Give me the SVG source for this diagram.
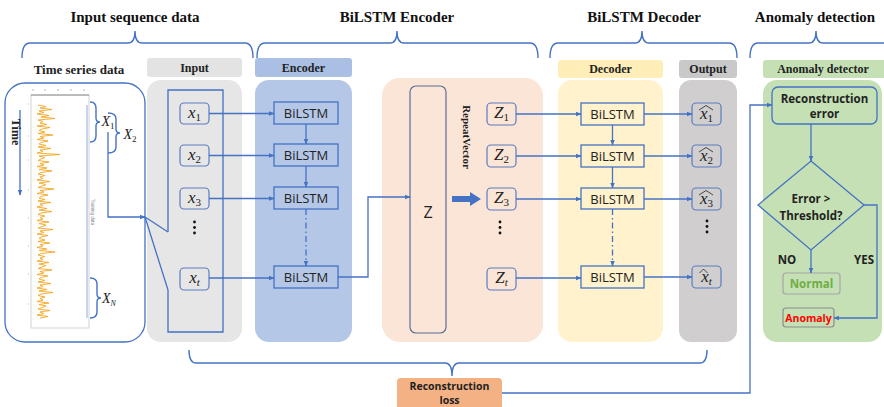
<svg xmlns="http://www.w3.org/2000/svg" width="884" height="407" viewBox="0 0 884 407">
<style>
.ttl{font-family:"Liberation Serif",serif;font-weight:bold;font-size:15px;fill:#111;text-anchor:middle}
.lbl{font-family:"Liberation Serif",serif;font-weight:bold;font-size:12px;fill:#222;text-anchor:middle}
.bl{font-family:"Open Sans","Noto Sans",sans-serif;font-size:13px;fill:#222;text-anchor:middle}
.m{font-family:"Liberation Serif",serif;font-style:italic;font-size:17px;fill:#222;text-anchor:middle}
.sub{font-size:11px;font-style:normal}
.sb{font-family:"Open Sans","Noto Sans",sans-serif;font-weight:bold;font-size:11.5px;fill:#222;text-anchor:middle}
.ln{fill:none;stroke:#4472c4;stroke-width:1.3}
.br{fill:none;stroke:#4472c4;stroke-width:1.4}
.nb{fill:none;stroke:#5b7cc0;stroke-width:1.2}
.bb{stroke:#4472c4;stroke-width:1.3}
.dot{fill:#111}
</style>
<defs>
<marker id="ah" viewBox="0 0 10 10" refX="9" refY="5" markerWidth="6" markerHeight="6" markerUnits="userSpaceOnUse" orient="auto"><path d="M0,1 L10,5 L0,9 z" fill="#4472c4"/></marker>
</defs>

<!-- titles and braces -->
<g id="titles">
<text class="ttl" x="135" y="22">Input sequence data</text>
<text class="ttl" x="397" y="22">BiLSTM Encoder</text>
<text class="ttl" x="644" y="22">BiLSTM Decoder</text>
<text class="ttl" x="815" y="22">Anomaly detection</text>
</g>
<g id="braces">
<path class="br" d="M22,58 Q22,43 30,43 H128 Q135,43 135,31 Q135,43 142,43 H245 Q253,43 253,58"/>
<path class="br" d="M257,58 Q257,43 265,43 H390 Q397,43 397,31 Q397,43 404,43 H530 Q538,43 538,58"/>
<path class="br" d="M550,58 Q550,43 558,43 H635 Q642,43 642,31 Q642,43 649,43 H729 Q737,43 737,58"/>
<path class="br" d="M750,58 Q750,43 758,43 H809 Q816,43 816,31 Q816,43 823,43 H890"/>
<path class="br" d="M189,350 Q189,363 196,363 H445 Q452,363 452,376 Q452,363 459,363 H700 Q707,363 707,350"/>
</g>

<!-- time series panel -->
<g id="timeseries">
<text class="lbl" x="79" y="74" style="font-size:13px">Time series data</text>
<rect x="5" y="83" width="140" height="259" rx="20" fill="#fff" stroke="#4472c4" stroke-width="1.3"/>
<rect x="31" y="95" width="58" height="233" fill="#fff" stroke="#c8c8c8" stroke-width="0.8"/>
<line x1="31" y1="95" x2="89" y2="95" stroke="#777" stroke-width="0.8"/>
<g stroke="#999" stroke-width="0.7">
<line x1="33" y1="89" x2="33" y2="91"/><line x1="45" y1="89" x2="45" y2="91"/><line x1="58" y1="89" x2="58" y2="91"/><line x1="71" y1="89" x2="71" y2="91"/><line x1="84" y1="89" x2="84" y2="91"/>
<line x1="28" y1="104" x2="29" y2="104"/><line x1="28" y1="136" x2="29" y2="136"/><line x1="28" y1="160" x2="29" y2="160"/><line x1="28" y1="190" x2="29" y2="190"/><line x1="28" y1="218" x2="29" y2="218"/><line x1="28" y1="246" x2="29" y2="246"/><line x1="28" y1="274" x2="29" y2="274"/><line x1="28" y1="304" x2="29" y2="304"/>
</g>
<polyline fill="none" stroke="#f5a623" stroke-width="0.9" points="38,105 46,106.5 40,108 52,109.5 39,111 44,112.5 37,114 49,115.5 41,117 55,118.5 38,120 43,121.5 40,123 47,124.5 37,126 50,127.5 42,129 39,130.5 45,132 38,133.5 53,135 40,136.5 44,138 37,139.5 48,141 41,142.5 39,144 46,145.5 38,147 51,148.5 40,150 43,151.5 37,153 60,154.5 39,156 45,157.5 41,159 38,160.5 49,162 40,163.5 44,165 37,166.5 47,168 39,169.5 52,171 41,172.5 38,174 45,175.5 40,177 43,178.5 37,180 50,181.5 39,183 46,184.5 42,186 38,187.5 54,189 40,190.5 44,192 37,193.5 48,195 41,196.5 39,198 45,199.5 38,201 51,202.5 40,204 43,205.5 37,207 47,208.5 39,210 52,211.5 41,213 38,214.5 45,216 40,217.5 43,219 37,220.5 49,222 39,223.5 46,225 42,226.5 38,228 53,229.5 40,231 44,232.5 37,234 48,235.5 41,237 39,238.5 45,240 38,241.5 50,243 40,244.5 43,246 37,247.5 47,249 39,250.5 55,252 41,253.5 38,255 45,256.5 40,258 43,259.5 37,261 49,262.5 39,264 46,265.5 42,267 38,268.5 52,270 40,271.5 44,273 37,274.5 48,276 41,277.5 39,279 45,280.5 38,282 51,283.5 40,285 43,286.5 37,288 47,289.5 39,291 53,292.5 41,294 38,295.5 45,297 40,298.5 43,300 37,301.5 49,303 39,304.5 46,306 42,307.5 38,309 50,310.5 40,312 44,313.5 37,315 48,316.5 40,318"/>
<line x1="87" y1="105" x2="87" y2="318" stroke="#8faadc" stroke-width="1"/>
<text x="91" y="212" transform="rotate(90 91 212)" font-family="Liberation Sans,sans-serif" font-size="4.5" fill="#888" text-anchor="middle">Training data</text>
<line x1="20" y1="110" x2="20" y2="195" class="ln" marker-end="url(#ah)"/>
<text class="lbl" x="12" y="132" transform="rotate(90 12 132)">Time</text>
<path class="br" stroke-width="1" d="M90,102 Q96,102 96,108 V118 Q96,122 100,122 Q96,122 96,126 V136 Q96,142 90,142"/>
<path class="br" stroke-width="1" d="M108,113 Q116,113 116,119 V129 Q116,133 120,133 Q116,133 116,137 V147 Q116,153 108,153"/>
<path class="br" stroke-width="1" d="M90,278 Q97,278 97,284 V294 Q97,298 101,298 Q97,298 97,302 V312 Q97,318 90,318"/>
<text class="m" x="108" y="126" style="font-size:14px">X<tspan class="sub" dy="3" style="font-size:9px">1</tspan></text>
<text class="m" x="130" y="139" style="font-size:14px">X<tspan class="sub" dy="3" style="font-size:9px">2</tspan></text>
<text class="m" x="109" y="303" style="font-size:14px">X<tspan class="sub" dy="3" style="font-style:italic;font-size:8px">N</tspan></text>
</g>

<!-- panels -->
<g id="input-panel">
<rect x="147" y="58" width="95" height="19" rx="3" fill="#e3e3e3"/>
<text class="lbl" x="194.5" y="72">Input</text>
<rect x="147" y="80" width="95" height="262" rx="14" fill="#e7e6e6"/>
</g>
<g id="encoder-panel">
<rect x="255" y="58" width="97" height="19" rx="3" fill="#a9bfe4"/>
<text class="lbl" x="303.5" y="72">Encoder</text>
<rect x="255" y="80" width="97" height="262" rx="14" fill="#b4c7e7"/>
</g>
<g id="repeat-panel">
<rect x="382" y="78" width="161" height="264" rx="18" fill="#fbe5d6"/>
</g>
<g id="decoder-panel">
<rect x="558" y="60" width="105" height="18" rx="3" fill="#ffeeb8"/>
<text class="lbl" x="610.5" y="73">Decoder</text>
<rect x="558" y="80" width="105" height="262" rx="14" fill="#fff2cc"/>
</g>
<g id="output-panel">
<rect x="679" y="60" width="58" height="18" rx="3" fill="#c9c9c9"/>
<text class="lbl" x="708" y="73">Output</text>
<rect x="679" y="80" width="58" height="262" rx="12" fill="#d0cece"/>
</g>
<g id="anomaly-panel">
<rect x="763" y="60" width="124" height="18" rx="3" fill="#c5e0b4"/>
<text class="lbl" x="823" y="73">Anomaly detector</text>
<rect x="763" y="80" width="119" height="262" rx="14" fill="#c5e0b4"/>
</g>

<!-- input nodes -->
<g id="input-window"><path class="ln" d="M168,232 V90 H223 V332 H168 V290"/></g>
<g id="x1"><rect class="nb" x="180" y="103" width="29" height="21" rx="4"/><text class="m" x="194.5" y="118">x<tspan class="sub" dy="3">1</tspan></text></g>
<g id="x2"><rect class="nb" x="180" y="145" width="29" height="21" rx="4"/><text class="m" x="194.5" y="160">x<tspan class="sub" dy="3">2</tspan></text></g>
<g id="x3"><rect class="nb" x="180" y="188" width="29" height="21" rx="4"/><text class="m" x="194.5" y="203">x<tspan class="sub" dy="3">3</tspan></text></g>
<g id="xdots"><circle class="dot" cx="194.5" cy="222" r="1.4"/><circle class="dot" cx="194.5" cy="227.5" r="1.4"/><circle class="dot" cx="194.5" cy="233" r="1.4"/></g>
<g id="xt"><rect class="nb" x="180" y="268" width="29" height="22" rx="4"/><text class="m" x="194.5" y="283">x<tspan class="sub" dy="3" style="font-style:italic">t</tspan></text></g>

<!-- encoder -->
<g id="enc1"><rect class="bb" x="274" y="102" width="64" height="22" fill="#b4c7e7"/><text class="bl" x="306" y="118">BiLSTM</text></g>
<g id="enc2"><rect class="bb" x="274" y="144" width="64" height="22" fill="#b4c7e7"/><text class="bl" x="306" y="160">BiLSTM</text></g>
<g id="enc3"><rect class="bb" x="274" y="187" width="64" height="22" fill="#b4c7e7"/><text class="bl" x="306" y="203">BiLSTM</text></g>
<g id="enc4"><rect class="bb" x="274" y="266" width="64" height="22" fill="#b4c7e7"/><text class="bl" x="306" y="282">BiLSTM</text></g>

<!-- repeat vector -->
<g id="z"><rect x="410" y="86" width="36" height="247" rx="6" fill="none" stroke="#5b6f96" stroke-width="1.2"/><text x="428" y="218" font-family="Open Sans,Noto Sans,sans-serif" font-size="16" fill="#222" text-anchor="middle">Z</text></g>
<g id="repeatvector"><text class="lbl" x="463" y="137" transform="rotate(90 463 137)" style="font-size:11px">RepeatVector</text>
<polygon points="452,196 470,196 470,192 481,199 470,206 470,202 452,202" fill="#4472c4"/></g>
<g id="z1"><rect class="nb" x="487" y="103" width="29" height="22" rx="4"/><text class="m" x="501.5" y="118">Z<tspan class="sub" dy="3">1</tspan></text></g>
<g id="z2"><rect class="nb" x="487" y="145" width="29" height="22" rx="4"/><text class="m" x="501.5" y="160">Z<tspan class="sub" dy="3">2</tspan></text></g>
<g id="z3"><rect class="nb" x="487" y="188" width="29" height="22" rx="4"/><text class="m" x="501.5" y="203">Z<tspan class="sub" dy="3">3</tspan></text></g>
<g id="zdots"><circle class="dot" cx="500" cy="222" r="1.4"/><circle class="dot" cx="500" cy="227.5" r="1.4"/><circle class="dot" cx="500" cy="233" r="1.4"/></g>
<g id="zt"><rect class="nb" x="487" y="268" width="29" height="22" rx="4"/><text class="m" x="501.5" y="283">Z<tspan class="sub" dy="3" style="font-style:italic">t</tspan></text></g>

<!-- decoder -->
<g id="dec1"><rect class="bb" x="581" y="103" width="63" height="22" fill="#fff2cc"/><text class="bl" x="612.5" y="119">BiLSTM</text></g>
<g id="dec2"><rect class="bb" x="581" y="145" width="63" height="22" fill="#fff2cc"/><text class="bl" x="612.5" y="161">BiLSTM</text></g>
<g id="dec3"><rect class="bb" x="581" y="188" width="63" height="21" fill="#fff2cc"/><text class="bl" x="612.5" y="203.5">BiLSTM</text></g>
<g id="dec4"><rect class="bb" x="581" y="266" width="63" height="22" fill="#fff2cc"/><text class="bl" x="612.5" y="282">BiLSTM</text></g>

<!-- outputs -->
<g id="o1"><rect class="nb" x="692" y="103" width="29" height="22" rx="4"/><text class="m" x="706.5" y="119">x<tspan class="sub" dy="3">1</tspan></text><path d="M699,110 L706,105.5 L713,110" fill="none" stroke="#222" stroke-width="0.8"/></g>
<g id="o2"><rect class="nb" x="692" y="145" width="29" height="22" rx="4"/><text class="m" x="706.5" y="161">x<tspan class="sub" dy="3">2</tspan></text><path d="M699,152 L706,147.5 L713,152" fill="none" stroke="#222" stroke-width="0.8"/></g>
<g id="o3"><rect class="nb" x="692" y="188" width="29" height="22" rx="4"/><text class="m" x="706.5" y="204">x<tspan class="sub" dy="3">3</tspan></text><path d="M699,195 L706,190.5 L713,195" fill="none" stroke="#222" stroke-width="0.8"/></g>
<g id="odots"><circle class="dot" cx="707" cy="221" r="1.4"/><circle class="dot" cx="707" cy="226.5" r="1.4"/><circle class="dot" cx="707" cy="232" r="1.4"/></g>
<g id="ot"><rect class="nb" x="692" y="266" width="29" height="22" rx="4"/><text class="m" x="706.5" y="282">x<tspan class="sub" dy="3" style="font-style:italic">t</tspan></text><path d="M699.5,273 L703.5,269 L707.5,273" fill="none" stroke="#222" stroke-width="0.8"/></g>

<!-- anomaly detector -->
<g id="recon-error"><rect x="772" y="87" width="105" height="37" rx="6" fill="#c5e0b4" stroke="#4472c4" stroke-width="1.3"/><text class="sb" x="824.5" y="103">Reconstruction</text><text class="sb" x="824.5" y="118">error</text></g>
<g id="decision"><polygon points="811,161 864,205 811,250 758,205" fill="#c5e0b4" stroke="#4472c4" stroke-width="1.3"/><text class="sb" x="811" y="203">Error &gt;</text><text class="sb" x="811" y="220">Threshold?</text></g>
<g id="normal"><rect x="783" y="273" width="57" height="21" rx="3" fill="#c5e0b4" stroke="#a6a6a6" stroke-width="1.2"/><text class="sb" x="811.5" y="288" style="fill:#70ad47">Normal</text></g>
<g id="anomaly"><rect x="783" y="308" width="51" height="19" rx="3" fill="#c5e0b4" stroke="#8c8c8c" stroke-width="1.2"/><text class="sb" x="808.5" y="321.5" style="fill:#ff0000;font-size:10.5px">Anomaly</text></g>
<g id="recon-loss"><rect x="397" y="378" width="105" height="34" rx="4" fill="#f4b183"/><text class="sb" x="449.5" y="389.5" style="font-size:10.5px">Reconstruction</text><text class="sb" x="449.5" y="403.5" style="font-size:10.5px">loss</text></g>

<!-- connectors -->
<g id="connectors">
<path class="ln" d="M108,132 V217 H145" marker-end="url(#ah)"/>
<path class="ln" d="M168,232 L145,217 L168,290"/>
<line class="ln" x1="209" y1="113.5" x2="274" y2="113.5" marker-end="url(#ah)"/>
<line class="ln" x1="209" y1="155.5" x2="274" y2="155.5" marker-end="url(#ah)"/>
<line class="ln" x1="209" y1="198.5" x2="274" y2="198.5" marker-end="url(#ah)"/>
<line class="ln" x1="209" y1="278" x2="274" y2="278" marker-end="url(#ah)"/>
<line class="ln" x1="306" y1="124" x2="306" y2="144" marker-end="url(#ah)"/>
<line class="ln" x1="306" y1="166" x2="306" y2="187" marker-end="url(#ah)"/>
<line class="ln" x1="306" y1="209" x2="306" y2="266" stroke-dasharray="6,3,1.5,3" marker-end="url(#ah)"/>
<path class="ln" d="M338,277 H368 V197 H410" marker-end="url(#ah)"/>
<line class="ln" x1="516" y1="114" x2="581" y2="114" marker-end="url(#ah)"/>
<line class="ln" x1="516" y1="156" x2="581" y2="156" marker-end="url(#ah)"/>
<line class="ln" x1="516" y1="199" x2="581" y2="199" marker-end="url(#ah)"/>
<line class="ln" x1="516" y1="278" x2="581" y2="278" marker-end="url(#ah)"/>
<line class="ln" x1="612.5" y1="125" x2="612.5" y2="145" marker-end="url(#ah)"/>
<line class="ln" x1="612.5" y1="167" x2="612.5" y2="188" marker-end="url(#ah)"/>
<line class="ln" x1="612.5" y1="209" x2="612.5" y2="266" stroke-dasharray="6,3,1.5,3" marker-end="url(#ah)"/>
<line class="ln" x1="644" y1="114" x2="692" y2="114" marker-end="url(#ah)"/>
<line class="ln" x1="644" y1="156" x2="692" y2="156" marker-end="url(#ah)"/>
<line class="ln" x1="644" y1="199" x2="692" y2="199" marker-end="url(#ah)"/>
<line class="ln" x1="644" y1="277" x2="692" y2="277" marker-end="url(#ah)"/>
<path class="ln" d="M502,393 H750 V105 H772" marker-end="url(#ah)"/>
<line class="ln" x1="811" y1="124" x2="811" y2="161" marker-end="url(#ah)"/>
<line class="ln" x1="811" y1="250" x2="811" y2="273" marker-end="url(#ah)"/>
<path class="ln" d="M864,205 H877 V318 H834" marker-end="url(#ah)"/>
<text class="sb" x="787" y="264">NO</text>
<text class="sb" x="864" y="264">YES</text>
</g>
</svg>
